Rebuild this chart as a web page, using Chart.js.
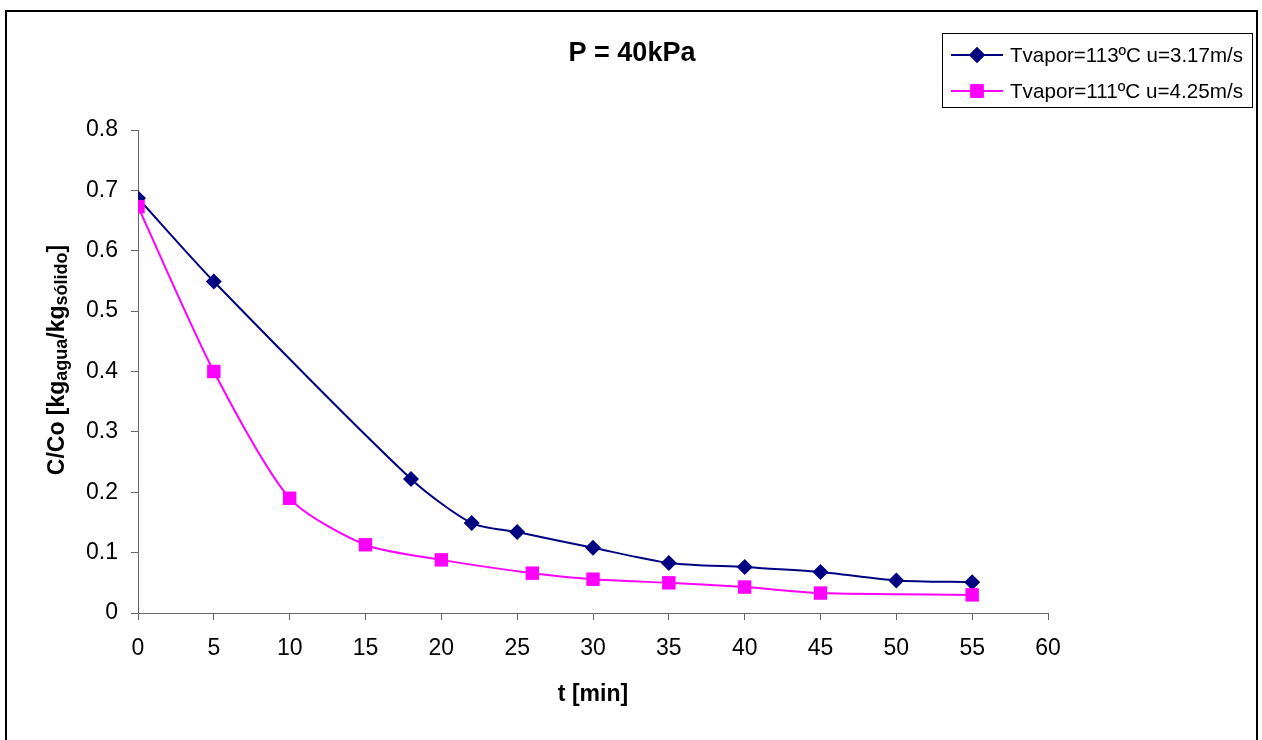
<!DOCTYPE html>
<html>
<head>
<meta charset="utf-8">
<script src="https://cdn.jsdelivr.net/npm/chart.js@4/dist/chart.umd.min.js"></script>
<style>
  html, body { margin: 0; padding: 0; background: #fff; }
  #wrap { width: 1262px; height: 740px; }
</style>
</head>
<body>
<div id="wrap"><canvas id="drying-chart" width="1262" height="740"></canvas></div>
<script>
// Drying curves at P = 40 kPa
const chartTitle = 'P = 40kPa';
const seriesNames = ['Tvapor=113ºC u=3.17m/s', 'Tvapor=111ºC u=4.25m/s'];

const timeA = [0, 5, 18, 22, 25, 30, 35, 40, 45, 50, 55];
const ratioA = [0.687, 0.549, 0.222, 0.149, 0.134, 0.108, 0.083, 0.076, 0.068, 0.054, 0.051];

const timeB = [0, 5, 10, 15, 20, 26, 30, 35, 40, 45, 55];
const ratioB = [0.673, 0.400, 0.190, 0.113, 0.088, 0.066, 0.056, 0.050, 0.043, 0.033, 0.030];

const xTicks = [0, 5, 10, 15, 20, 25, 30, 35, 40, 45, 50, 55, 60];
const yTicks = [0, 0.1, 0.2, 0.3, 0.4, 0.5, 0.6, 0.7, 0.8];

const FONT = '"Liberation Sans", Arial, sans-serif';
const NAVY = '#000080';
const PINK = '#ff00ff';

const toPoints = (xs, ys) => xs.map((x, i) => ({ x: x, y: ys[i] }));

// Frame, title, legend box and the y-axis title (with subscripts)
const decorations = {
    id: 'decorations',
    afterDraw(chart) {
        const ctx = chart.ctx;
        const area = chart.chartArea;
        ctx.save();

        // outer frame
        ctx.strokeStyle = '#000';
        ctx.lineWidth = 2;
        ctx.strokeRect(6, 11, 1251, 800);

        // title
        ctx.fillStyle = '#000';
        ctx.font = 'bold 27px ' + FONT;
        ctx.textAlign = 'center';
        ctx.textBaseline = 'middle';
        ctx.fillText(chartTitle, 632, 54);

        // x axis title
        ctx.font = 'bold 23px ' + FONT;
        ctx.fillText('t [min]', (area.left + area.right) / 2, 695);

        // y axis title, rotated, with subscripts
        const parts = [
            ['C/Co [kg', false], ['agua', true], ['/kg', false], ['sólido', true], [']', false]
        ];
        const mainFont = 'bold 23px ' + FONT;
        const subFont = 'bold 18px ' + FONT;
        let total = 0;
        parts.forEach(p => {
            ctx.font = p[1] ? subFont : mainFont;
            total += ctx.measureText(p[0]).width;
        });
        ctx.translate(64, 360);
        ctx.rotate(-Math.PI / 2);
        ctx.textAlign = 'left';
        ctx.textBaseline = 'alphabetic';
        let pos = -total / 2;
        parts.forEach(p => {
            ctx.font = p[1] ? subFont : mainFont;
            ctx.fillText(p[0], pos, p[1] ? 3 : 0);
            pos += ctx.measureText(p[0]).width;
        });
        ctx.setTransform(1, 0, 0, 1, 0, 0);

        // legend
        ctx.strokeStyle = '#000';
        ctx.lineWidth = 1;
        ctx.strokeRect(942.5, 33.5, 310, 74);
        const rows = [
            { label: seriesNames[0], color: NAVY, style: 'rectRot', r: 8, y: 55 },
            { label: seriesNames[1], color: PINK, style: 'rect', r: 9.5, y: 91 }
        ];
        rows.forEach(row => {
            ctx.strokeStyle = row.color;
            ctx.lineWidth = 2;
            ctx.beginPath();
            ctx.moveTo(951, row.y);
            ctx.lineTo(1003, row.y);
            ctx.stroke();
            ctx.fillStyle = row.color;
            Chart.helpers.drawPoint(ctx, { pointStyle: row.style, radius: row.r, borderWidth: 0 }, 977, row.y);
            ctx.fill();
            ctx.fillStyle = '#000';
            ctx.font = '21px ' + FONT;
            ctx.textAlign = 'left';
            ctx.textBaseline = 'middle';
            ctx.fillText(row.label, 1010, row.y + 1, 233);
        });

        ctx.restore();
    }
};

const ctx = document.getElementById('drying-chart').getContext('2d');
const chart = new Chart(ctx, {
    type: 'line',
    data: {
        datasets: [{
            label: seriesNames[0],
            data: toPoints(timeA, ratioA),
            borderColor: NAVY,
            backgroundColor: NAVY,
            borderWidth: 2,
            pointStyle: 'rectRot',
            pointRadius: 8,
            pointBorderWidth: 0,
            tension: 0.25,
            order: 2
        }, {
            label: seriesNames[1],
            data: toPoints(timeB, ratioB),
            borderColor: PINK,
            backgroundColor: PINK,
            borderWidth: 2,
            pointStyle: 'rect',
            pointRadius: 9.5,
            pointBorderWidth: 0,
            tension: 0.25,
            order: 1
        }]
    },
    options: {
        responsive: false,
        animation: false,
        layout: { padding: { left: 58, right: 214, top: 130, bottom: 47 } },
        plugins: {
            legend: { display: false },
            title: { display: false },
            tooltip: { enabled: false }
        },
        scales: {
            x: {
                type: 'linear',
                min: 0,
                max: 60,
                afterFit: scale => { scale.height = 80; },
                afterBuildTicks: scale => { scale.ticks = xTicks.map(v => ({ value: v })); },
                grid: { drawOnChartArea: false, tickLength: 7, color: '#666', lineWidth: 1 },
                border: { color: '#666', width: 1 },
                ticks: { color: '#000', font: { family: FONT, size: 23 }, padding: 15, maxRotation: 0 }
            },
            y: {
                min: 0,
                max: 0.8,
                afterFit: scale => { scale.width = 80; },
                afterBuildTicks: scale => { scale.ticks = yTicks.map(v => ({ value: v })); },
                grid: { drawOnChartArea: false, tickLength: 7, color: '#666', lineWidth: 1 },
                border: { color: '#666', width: 1 },
                ticks: {
                    color: '#000',
                    font: { family: FONT, size: 23 },
                    padding: 13,
                    callback: v => String(+v.toFixed(1))
                }
            }
        }
    },
    plugins: [decorations]
});
</script>
</body>
</html>
